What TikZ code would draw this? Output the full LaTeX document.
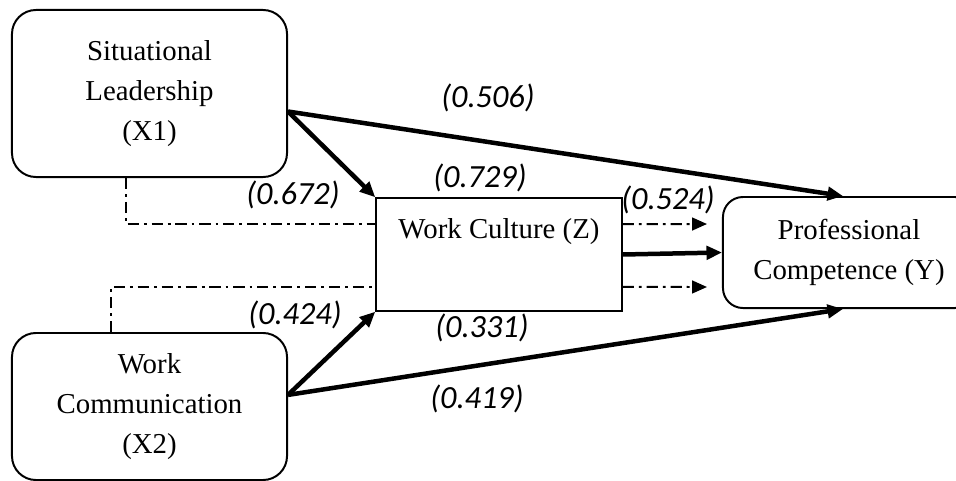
\documentclass[tikz,border=0pt]{standalone}
\usepackage{fontspec}
\setmainfont{Liberation Serif}
\newfontfamily\coeffont{Carlito}
\usetikzlibrary{arrows.meta, positioning, calc}
\tikzset{
  every picture/.style={x=0.025cm, y=-0.025cm},
  varbox/.style={draw, line width=1.4pt, rounded corners=#1, align=center,
    font=\fontsize{20.5pt}{28.5pt}\selectfont},
  varbox/.default=0.6cm,
  medbox/.style={draw, line width=1pt, font=\fontsize{20.5pt}{28.5pt}\selectfont},
  path/.style={-{Triangle[length=11pt, width=9.5pt]}, line width=3.2pt},
  indirect/.style={-{Triangle[length=10.5pt, width=9pt]}, line width=1.4pt,
    dash pattern=on 8pt off 3.5pt on 2pt off 3.5pt},
  coef/.style={font=\coeffont\itshape\fontsize{23pt}{27pt}\selectfont},
}
\begin{document}
\begin{tikzpicture}
  \useasboundingbox (0,0) rectangle (956,481);
  % variables
  \node[varbox, minimum width=6.875cm, minimum height=4.175cm] (x1) at (149.5,93.5)
    {Situational\\Leadership\\(X1)};
  \node[varbox, minimum width=6.875cm, minimum height=3.675cm] (x2) at (149.5,406.5)
    {Work\\Communication\\(X2)};
  \node[medbox, minimum width=6.15cm, minimum height=2.825cm,
    label={[anchor=center, yshift=-0.85cm, font=\fontsize{20.5pt}{28.5pt}\selectfont]north:Work Culture (Z)}]
    (z) at (499,254.5) {};
  \node[varbox=0.5cm, minimum width=6.3cm, minimum height=2.775cm] (y) at (849,252.5)
    {Professional\\Competence (Y)};
  \coordinate (t1) at (707,224);
  \coordinate (t2) at (707,287);
  % direct paths
  \draw[path] ([yshift=-0.45cm]x1.east) -- (z.north west);
  \draw[path] ([yshift=-0.45cm]x1.east) -- ([xshift=-0.15cm]y.north);
  \draw[path] ([yshift=0.29cm]x2.east) -- (z.south west);
  \draw[path] ([yshift=0.29cm]x2.east) -- ([xshift=-0.15cm]y.south);
  \draw[path] (z.east) -- (y.west);
  % indirect paths
  \draw[indirect, -] ([xshift=-0.59cm]x1.south) |- ([yshift=0.76cm]z.west);
  \draw[indirect] ([yshift=0.76cm]z.east) -- (t1);
  \draw[indirect, -] ([xshift=-0.96cm]x2.north) |- ([yshift=-0.81cm]z.west);
  \draw[indirect] ([yshift=-0.81cm]z.east) -- (t2);
  % coefficients
  \foreach \n/\x/\y/\v in {a/488/98/0.506, b/480/178/0.729, c/293/195/0.672,
                           d/668/200/0.524, e/295/315/0.424, f/482/328/0.331,
                           g/477/399/0.419}
    { \node[coef] (c\n) at (\x,\y) {(\v)}; }
\end{tikzpicture}
\end{document}
